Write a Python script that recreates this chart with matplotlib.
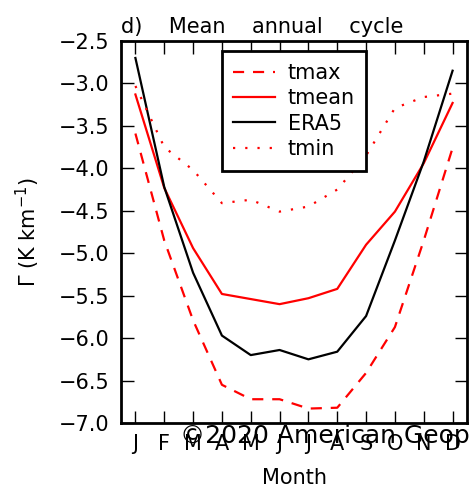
import matplotlib
matplotlib.use("Agg")
import matplotlib.pyplot as plt

plt.rcParams["font.family"] = ["DejaVu Sans"]

# ============================================================
# DATA
# ============================================================

month_num = list(range(1, 13))
month_labels = ["J", "F", "M", "A", "M", "J", "J", "A", "S", "O", "N", "D"]

tmax = [-3.59, -4.85, -5.79, -6.55, -6.72, -6.72, -6.83, -6.82, -6.41, -5.87, -4.85, -3.76]
tmean = [-3.13, -4.23, -4.94, -5.48, -5.54, -5.60, -5.53, -5.42, -4.90, -4.51, -3.94, -3.23]
era5 = [-2.70, -4.22, -5.23, -5.97, -6.20, -6.14, -6.25, -6.16, -5.74, -4.85, -3.92, -2.85]
tmin = [-3.03, -3.75, -4.02, -4.41, -4.37, -4.51, -4.45, -4.25, -3.85, -3.29, -3.16, -3.12]

yticks = [-7.0, -6.5, -6.0, -5.5, -5.0, -4.5, -4.0, -3.5, -3.0, -2.5]

# ============================================================
# FIGURE
# ============================================================

fig = plt.figure(figsize=(4.75, 4.91), dpi=100)
ax = fig.add_axes([121 / 475, 1 - 423 / 491, 346 / 475, 382 / 491])

ax.plot(month_num, tmax, color="red", ls=(0, (5, 4)), lw=1.6, label="tmax")
ax.plot(month_num, tmean, color="red", lw=1.6, label="tmean")
ax.plot(month_num, era5, color="black", lw=1.6, label="ERA5")
ax.plot(month_num, tmin, color="red", ls=(0, (1, 4.5)), lw=1.6, label="tmin")

ax.set_xlim(0.5, 12.5)
ax.set_ylim(-7.0, -2.5)
ax.set_xticks(month_num)
ax.set_xticklabels(month_labels)
ax.set_yticks(yticks)
ax.tick_params(direction="in", length=9, width=1, labelsize=15,
               top=True, right=True)
ax.tick_params(axis="y", pad=8)
ax.tick_params(axis="x", pad=8)
for s in ax.spines.values():
    s.set_linewidth(2)

ax.set_xlabel("Month", fontsize=15, labelpad=10)
ax.set_ylabel(r"Γ (K km$^{-1}$)", fontsize=15, labelpad=12)
ax.set_title("d)    Mean    annual    cycle", loc="left", fontsize=15, pad=6)

leg = ax.legend(loc="upper center", bbox_to_anchor=(0.5, 1.0), fontsize=15,
                fancybox=False, framealpha=1, edgecolor="black",
                handlelength=2.0, handletextpad=0.6, labelspacing=0.26,
                borderpad=0.55, borderaxespad=0.5)
leg.get_frame().set_linewidth(2)

fig.text(180 / 475, 1 - 443 / 491, "©2020 American Geop", fontsize=18,
         va="baseline", ha="left", color="black")

plt.savefig("out.png", dpi=100)
plt.close()
